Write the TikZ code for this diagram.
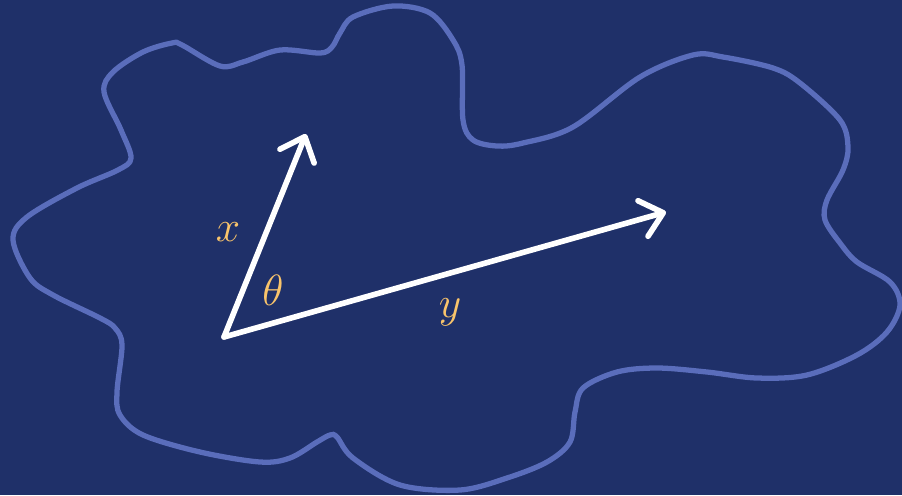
\documentclass[tikz,border=0pt]{standalone}
\usepackage{amsmath}
\usepackage{xcolor}
\usetikzlibrary{arrows.meta}
\definecolor{nightblue}{RGB}{31,48,105}
\definecolor{blobline}{RGB}{90,109,187}
\definecolor{labelgold}{RGB}{249,196,107}
\tikzset{
  blob/.style={draw=blobline,line width=3pt},
  vec/.style={draw=white,line width=3.2pt,line cap=round,
    -{Straight Barb[length=12pt,width=21pt,round]}},
  lab/.style={text=labelgold,font=\fontsize{27}{31}\selectfont}
}
\begin{document}
\begin{tikzpicture}[x=0.02cm,y=-0.02cm]
\fill[nightblue] (0,0) rectangle (902,495);
\useasboundingbox (0,0) rectangle (902,495);
\draw[blob] plot[smooth cycle,tension=0.55] coordinates {
  (13,240) (27,217) (77,188) (118,170) (131,158) (121,130) (104,92)
  (113,72) (143,52) (172,43) (182,45) (220,66) (243,62) (280,50)
  (320,53) (332,47) (340,33) (353,17) (393,6) (430,13) (453,40)
  (462,65) (463,120) (473,140) (497,146) (523,143) (573,127) (640,77)
  (693,55) (723,57) (773,68) (800,83) (840,120) (848,147) (843,170)
  (827,200) (825,220) (840,243) (857,262) (890,282) (900,305) (887,332)
  (857,355) (807,375) (757,378) (707,372) (657,368) (617,372) (583,388)
  (575,412) (570,442) (547,462) (507,478) (460,490) (400,485) (353,458)
  (337,437) (330,435) (317,442) (290,458) (260,462) (200,452) (143,435)
  (120,415) (117,392) (122,345) (115,328) (100,318) (53,295) (30,278)};
\coordinate (O) at (224,337);
\coordinate (X) at (306,134);
\coordinate (Y) at (666,212);
\draw[vec] (O) -- (X);
\draw[vec] (O) -- (Y);
\node[lab] (lx) at (228,232) {$x$};
\node[lab] (lt) at (273,290) {$\theta$};
\node[lab] (ly) at (450,312) {$y$};
\end{tikzpicture}
\end{document}
